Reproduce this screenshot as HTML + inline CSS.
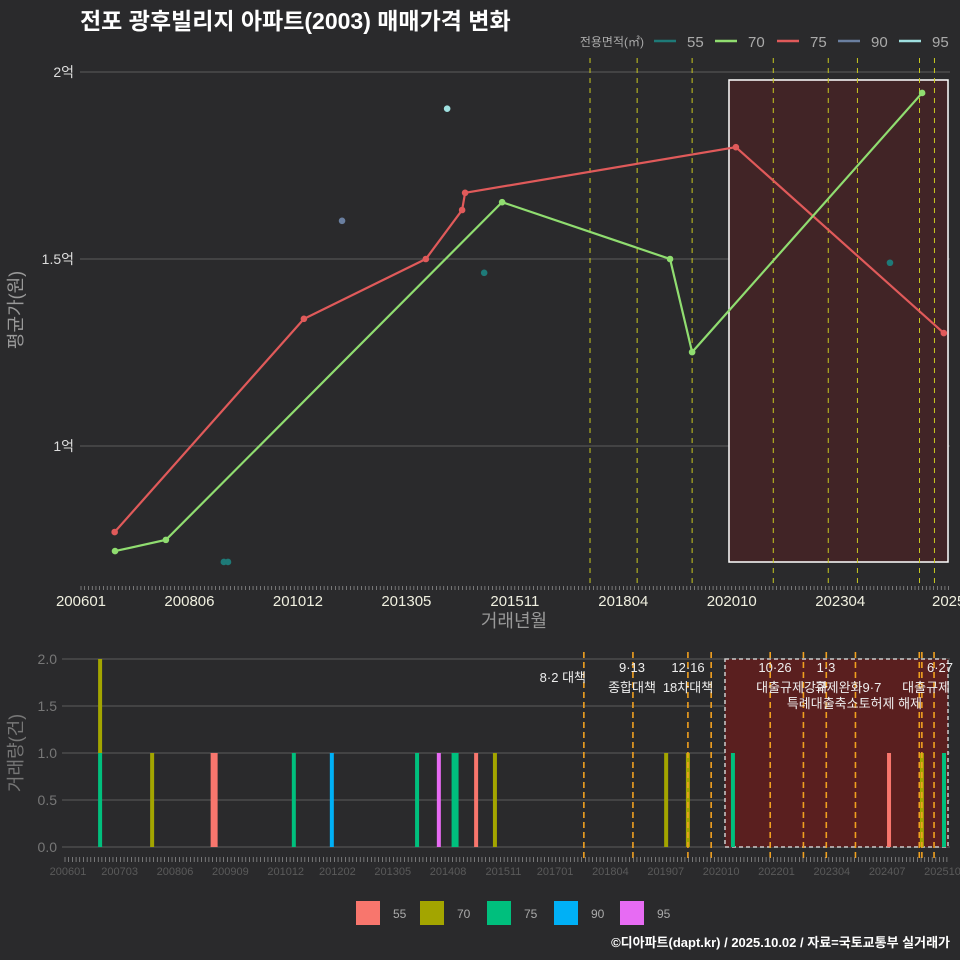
<!DOCTYPE html>
<html><head><meta charset="utf-8"><style>
html,body{margin:0;background:#2a2a2c;width:960px;height:960px;overflow:hidden}
svg{font-family:"Liberation Sans","Noto Sans CJK KR",sans-serif;display:block}
</style></head><body>
<svg id="c" width="960" height="960">
<rect width="960" height="960" fill="#2a2a2c"/>
</svg>
<script>
const priceMonths70=[9.1,22.7,112.6,157.5,163.4,224.9];
const priceVals70=[0.719,0.749,1.652,1.5,1.251,1.944];
const priceMonths75=[9,59.6,92.2,101.9,102.7,175.1,230.7];
const priceVals75=[0.770,1.340,1.5,1.631,1.677,1.799,1.302];
const priceMonths55=[38.2,39.3,107.8,216.3];
const priceVals55=[0.690,0.690,1.463,1.490];
const priceMonths90=[69.8];
const priceVals90=[1.602];
const priceMonths95=[97.9];
const priceVals95=[1.902];
const topTickLabels=["200601","200806","201012","201305","201511","201804","202010","202304","2025"];
const topTickMonths=[0,29,58,87,116,145,174,203,232];
const yTickVals=[1,1.5,2];
const yTickLabels=["1억","1.5억","2억"];
const policyTopMonths=[136.1,148.7,163.4,185.1,199.8,207.6,224.2,228.2];
const volMonths=[8.7,8.7,22.8,39.6,61.2,71.5,94.6,100.5,104.9,110.6,115.7,162.1,168.0,180.2,222.5,231.4,237.4];
const volCounts=[1,1,1,1,1,1,1,1,1,1,1,1,1,1,1,1,1];
const volBase=[0,1,0,0,0,0,0,0,0,0,0,0,0,0,0,0,0];
const volSeries=["75","70","70","55","75","90","75","95","75","55","70","70","70","75","55","70","75"];
const volWide=[0,0,0,1,0,0,0,0,1,0,0,0,0,0,0,0,0];
const volTickLabels=["200601","200703","200806","200909","201012","201202","201305","201408","201511","201701","201804","201907","202010","202201","202304","202407","202510"];
const volTickMonts=[0,14,29,44,59,73,88,103,118,132,147,162,177,192,207,222,237];
const policyBotMonths=[139.8,153.1,168.0,174.3,190.3,199.3,205.5,213.4,230.7,231.4,234.7];
const seriesColor={"55":"#F8766D","70":"#A3A500","75":"#00BF7D","90":"#00B0F6","95":"#E76BF3"};
const NS="http://www.w3.org/2000/svg";
const svg=document.getElementById('c');
function el(t,a,txt){const e=document.createElementNS(NS,t);for(const k in a)e.setAttribute(k,a[k]);if(txt!==undefined)e.textContent=txt;svg.appendChild(e);return e;}
const xT=m=>81+3.74*m, yT=v=>446-(v-1)*374;
const xB=m=>68+3.69*m, yB=v=>847-v*94;

let t=el('text',{x:80,y:29,fill:'#fff','font-size':23,'font-weight':'bold'},'전포 광후빌리지 아파트(2003) 매매가격 변화');


yTickVals.forEach((v,i)=>{
 let g=el('line',{x1:80,x2:950,y1:yT(v),y2:yT(v),stroke:'#5c5c5c','stroke-width':1});
 
 let l=el('text',{x:74,y:yT(v)+5,fill:'#ddd','font-size':14,'text-anchor':'end'},yTickLabels[i]);
 
});
let r=el('rect',{x:729,y:80,width:219,height:482,fill:'#412426',stroke:'#fff','stroke-width':1.5});

policyTopMonths.forEach(m=>{
 let l=el('line',{x1:xT(m),x2:xT(m),y1:58,y2:588,stroke:'#c8c820','stroke-width':1,'stroke-dasharray':'5,5'});
 
});
for(let m=0;m<=232;m++){
 let l=el('line',{x1:xT(m),x2:xT(m),y1:586,y2:590,stroke:'#aaa','stroke-width':0.6});
 
}
topTickLabels.forEach((s,i)=>{
 let l=el('text',{x:xT(topTickMonths[i]),y:606,fill:'#f0f0e0','font-size':15,'text-anchor':'middle'},s);
 
});
t=el('text',{x:514,y:627,fill:'#999','font-size':18,'text-anchor':'middle'},'거래년월');

t=el('text',{x:22,y:310,fill:'#999','font-size':18,'text-anchor':'middle',transform:'rotate(-90 22 310)'},'평균가(원)');


function line(ms,vs,c,name){
 let p=el('polyline',{points:ms.map((m,i)=>xT(m)+','+yT(vs[i])).join(' '),fill:'none',stroke:c,'stroke-width':2.2});
 
}
function pts(ms,vs,c,name){
 ms.forEach((m,i)=>{let d=el('circle',{cx:xT(m),cy:yT(vs[i]),r:3.3,fill:c});
 });
}
line(priceMonths75,priceVals75,'#e05a5a','area-75');pts(priceMonths75,priceVals75,'#e05a5a','area-75');
line(priceMonths70,priceVals70,'#90dd70','area-70');pts(priceMonths70,priceVals70,'#90dd70','area-70');
pts(priceMonths55,priceVals55,'#1e7a78','area-55');
pts(priceMonths90,priceVals90,'#6a7fa0','area-90');
pts(priceMonths95,priceVals95,'#9fe0e0','area-95');

t=el('text',{x:644,y:46,fill:'#aaa','font-size':12,'text-anchor':'end'},'전용면적(㎡)');

[['55','#1e7a78',654],['70','#90dd70',715],['75','#e05a5a',777],['90','#6a7fa0',838],['95','#9fe0e0',899]].forEach(a=>{
 let l=el('line',{x1:a[2],x2:a[2]+22,y1:41,y2:41,stroke:a[1],'stroke-width':2.5});
 
 let s=el('text',{x:a[2]+33,y:47,fill:'#aaa','font-size':15},a[0]);
 
});

[0,0.5,1,1.5,2].forEach(v=>{
 let g=el('line',{x1:62,x2:950,y1:yB(v),y2:yB(v),stroke:'#5c5c5c','stroke-width':1});
 
 let l=el('text',{x:57,y:yB(v)+5,fill:'#777','font-size':14,'text-anchor':'end'},v.toFixed(1));
 
});
r=el('rect',{x:725,y:659,width:223,height:188,fill:'#5a1f1f',stroke:'#ccc','stroke-width':1.5,'stroke-dasharray':'4,3'});

volMonths.forEach((m,i)=>{
 const w=volWide[i]?7:4;
 let b=el('rect',{x:xB(m)-w/2,y:yB(volBase[i]+volCounts[i]),width:w,height:volCounts[i]*94,fill:seriesColor[volSeries[i]]});
 
});
policyBotMonths.forEach(m=>{
 let l=el('line',{x1:xB(m),x2:xB(m),y1:652,y2:858,stroke:'#f0a020','stroke-width':1.6,'stroke-dasharray':'6,4'});
 
});
[[586,682,'8·2 대책','end'],[632,672,'9·13','middle'],[632,692,'종합대책','middle'],[688,672,'12·16','middle'],[688,692,'18차대책','middle'],
 [775,672,'10·26','middle'],[826,672,'1·3','middle'],[792,692,'대출규제강화','middle'],[848,692,'규제완화9·7','middle'],
 [922,708,'특례대출축소토허제 해제','end'],[940,672,'6·27','middle'],[950,692,'대출규제','end']].forEach(a=>{
 let s=el('text',{x:a[0],y:a[1],fill:'#eee','font-size':13,'text-anchor':a[3]},a[2]);
 
});
for(let m=0;m<=239;m++){
 let l=el('line',{x1:xB(m)-3,x2:xB(m)-3,y1:857,y2:862,stroke:'#aaa','stroke-width':0.6});
 
}
volTickLabels.forEach((s,i)=>{
 let l=el('text',{x:xB(volTickMonts[i]),y:875,fill:'#5a5a5a','font-size':11,'text-anchor':'middle'},s);
 
});
t=el('text',{x:22,y:753,fill:'#777','font-size':18,'text-anchor':'middle',transform:'rotate(-90 22 753)'},'거래량(건)');


[['55',356],['70',420],['75',487],['90',554],['95',620]].forEach(a=>{
 let s=el('rect',{x:a[1],y:901,width:24,height:24,fill:seriesColor[a[0]]});
 
 let l=el('text',{x:a[1]+37,y:918,fill:'#aaa','font-size':12},a[0]);
 
});
t=el('text',{x:950,y:947,fill:'#fff','font-size':13,'font-weight':'bold','text-anchor':'end'},'©디아파트(dapt.kr) / 2025.10.02 / 자료=국토교통부 실거래가');

</script>
</body></html>
